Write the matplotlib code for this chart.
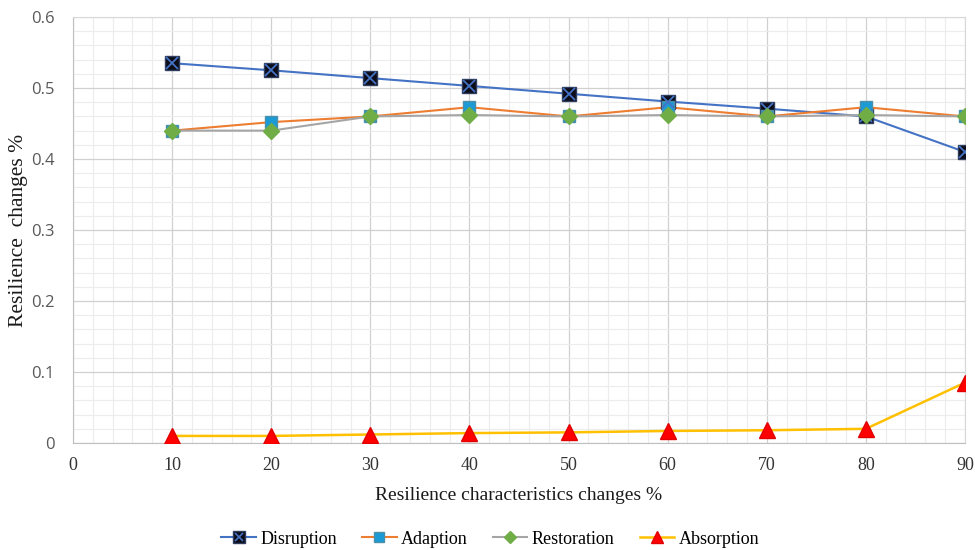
import matplotlib
matplotlib.use("Agg")
import matplotlib.pyplot as plt
from matplotlib.lines import Line2D
from matplotlib.ticker import MultipleLocator, FuncFormatter

x = [10, 20, 30, 40, 50, 60, 70, 80, 90]
disruption = [0.535, 0.525, 0.514, 0.503, 0.492, 0.481, 0.471, 0.460, 0.410]
adaption = [0.440, 0.452, 0.460, 0.473, 0.460, 0.473, 0.460, 0.473, 0.460]
restoration = [0.440, 0.440, 0.460, 0.462, 0.460, 0.462, 0.460, 0.462, 0.460]
absorption = [0.010, 0.010, 0.012, 0.014, 0.015, 0.017, 0.018, 0.020, 0.085]

serif = "Liberation Serif"
fig = plt.figure(figsize=(9.75, 5.5), dpi=100)
ax = fig.add_axes([0.0749, 0.1945, 0.9148, 0.7745])

ax.set_xlim(0, 90)
ax.set_ylim(0, 0.6)
ax.xaxis.set_major_locator(MultipleLocator(10))
ax.xaxis.set_minor_locator(MultipleLocator(2))
ax.yaxis.set_major_locator(MultipleLocator(0.1))
ax.yaxis.set_minor_locator(MultipleLocator(0.02))
ax.grid(which="major", color="#d0d0d0", linewidth=0.9)
ax.grid(which="minor", color="#ececec", linewidth=0.8)
ax.set_axisbelow(True)
for s in ["top", "right"]:
    ax.spines[s].set_color("#d9d9d9")
for s in ["left", "bottom"]:
    ax.spines[s].set_color("#bfbfbf")
ax.tick_params(which="both", length=0)
ax.tick_params(axis="x", labelsize=13, labelcolor="#333333", pad=10)
ax.tick_params(axis="y", labelsize=12, labelcolor="#595959", pad=13)
ax.yaxis.set_major_formatter(FuncFormatter(lambda v, p: "0" if abs(v) < 1e-9 else f"{v:.1f}"))
for lab in ax.get_xticklabels():
    lab.set_fontfamily(serif)
for lab in ax.get_yticklabels():
    lab.set_fontfamily("Open Sans")

# Disruption
ax.plot(x, disruption, color="#4472C4", linewidth=1.5, zorder=3)
ax.plot(x, disruption, linestyle="none", marker="s", markersize=10,
        markerfacecolor="#0d0d1a", markeredgecolor="#2F3E5E", zorder=4)
ax.plot(x, disruption, linestyle="none", marker="x", markersize=8,
        markeredgecolor="#4472C4", markeredgewidth=1.3, zorder=5)
# Adaption
ax.plot(x, adaption, color="#ED7D31", linewidth=1.5, zorder=3)
ax.plot(x, adaption, linestyle="none", marker="s", markersize=9,
        markerfacecolor="#1B9AD6", markeredgecolor="#4D8FA8", zorder=4)
# Restoration
ax.plot(x, restoration, color="#A5A5A5", linewidth=1.5, zorder=3)
ax.plot(x, restoration, linestyle="none", marker="D", markersize=8,
        markerfacecolor="#70AD47", markeredgecolor="#70AD47", zorder=6)
# Absorption
ax.plot(x, absorption, color="#FFC000", linewidth=1.8, zorder=3)
ax.plot(x, absorption, linestyle="none", marker="^", markersize=11,
        markerfacecolor="#FF0000", markeredgecolor="#E00000", zorder=4)

ax.set_xlabel("Resilience characteristics changes %", fontfamily=serif,
              fontsize=14, color="#1a1a1a")
ax.xaxis.set_label_coords(0.5, -0.103)
ax.set_ylabel("Resilience  changes %", fontfamily=serif, fontsize=15.5,
              color="#1a1a1a")
ax.yaxis.set_label_coords(-0.05, 0.5)

h1 = (Line2D([], [], color="#4472C4", linewidth=1.5),
      Line2D([], [], linestyle="none", marker="s", markersize=8,
             markerfacecolor="#0d0d1a", markeredgecolor="#2F3E5E"),
      Line2D([], [], linestyle="none", marker="x", markersize=6,
             markeredgecolor="#4472C4", markeredgewidth=1.2))
h2 = (Line2D([], [], color="#ED7D31", linewidth=1.5),
      Line2D([], [], linestyle="none", marker="s", markersize=7,
             markerfacecolor="#1B9AD6", markeredgecolor="#4D8FA8"))
h3 = (Line2D([], [], color="#A5A5A5", linewidth=1.5),
      Line2D([], [], linestyle="none", marker="D", markersize=6,
             markerfacecolor="#70AD47", markeredgecolor="#70AD47"))
h4 = (Line2D([], [], color="#FFC000", linewidth=1.8),
      Line2D([], [], linestyle="none", marker="^", markersize=9,
             markerfacecolor="#FF0000", markeredgecolor="#E00000"))
fig.legend([h1, h2, h3, h4], ["Disruption", "Adaption", "Restoration", "Absorption"],
           loc="center", bbox_to_anchor=(0.503, 0.02), ncol=4, frameon=False,
           prop={"family": serif, "size": 13}, handlelength=1.9,
           columnspacing=1.4, handletextpad=0.25)

fig.savefig("out.png", dpi=100)
